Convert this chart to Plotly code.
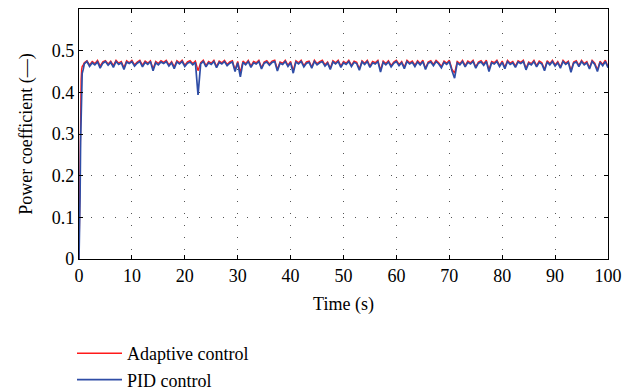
import plotly.graph_objects as go

# ---- data ----
t_rise = [0.0, 0.1, 0.2, 0.3, 0.4, 0.5, 0.6, 0.8]
pid_rise = [0.0, 0.05, 0.15, 0.28, 0.38, 0.43, 0.445, 0.455]
adaptive_rise = [0.0, 0.12, 0.28, 0.38, 0.43, 0.455, 0.462, 0.466]

step = 0.5
pid_steady = [
    0.468, 0.474, 0.462, 0.471, 0.466, 0.473, 0.458, 0.470, 0.474, 0.465,
    0.472, 0.460, 0.474, 0.467, 0.471, 0.455, 0.473, 0.469, 0.474, 0.463,
    0.470, 0.474, 0.461, 0.472, 0.467, 0.474, 0.452, 0.471, 0.466, 0.473,
    0.469, 0.474, 0.463, 0.471, 0.457, 0.473, 0.468, 0.474, 0.462, 0.470,
    0.473, 0.466, 0.472, 0.394, 0.468, 0.474, 0.461, 0.471, 0.467, 0.474,
    0.459, 0.472, 0.468, 0.474, 0.464, 0.470, 0.473, 0.450, 0.471, 0.437,
    0.472, 0.466, 0.474, 0.460, 0.471, 0.468, 0.474, 0.456, 0.470, 0.473,
    0.465, 0.472, 0.474, 0.451, 0.470, 0.467, 0.474, 0.462, 0.471, 0.446,
    0.473, 0.468, 0.474, 0.461, 0.470, 0.472, 0.458, 0.474, 0.466, 0.471,
    0.474, 0.463, 0.470, 0.455, 0.473, 0.468, 0.474, 0.460, 0.471, 0.467,
    0.474, 0.462, 0.472, 0.469, 0.453, 0.473, 0.467, 0.474, 0.460, 0.471,
    0.468, 0.474, 0.449, 0.472, 0.466, 0.473, 0.461, 0.470, 0.474, 0.464,
    0.471, 0.457, 0.474, 0.468, 0.472, 0.462, 0.473, 0.466, 0.474, 0.455,
    0.470, 0.473, 0.464, 0.474, 0.468, 0.459, 0.472, 0.467, 0.474, 0.452,
    0.434, 0.471, 0.466, 0.474, 0.461, 0.472, 0.468, 0.474, 0.458, 0.470,
    0.473, 0.465, 0.474, 0.450, 0.471, 0.468, 0.474, 0.462, 0.472, 0.457,
    0.474, 0.467, 0.471, 0.460, 0.473, 0.469, 0.474, 0.454, 0.470, 0.466,
    0.474, 0.461, 0.472, 0.468, 0.452, 0.473, 0.466, 0.474, 0.463, 0.471,
    0.458, 0.474, 0.467, 0.472, 0.448, 0.470, 0.473, 0.462, 0.474, 0.466,
    0.471, 0.456, 0.474, 0.467, 0.450, 0.472, 0.464, 0.474, 0.459,
]
adaptive_steady = [
    0.471, 0.476, 0.466, 0.474, 0.469, 0.477, 0.463, 0.473, 0.476, 0.468,
    0.475, 0.464, 0.477, 0.470, 0.474, 0.459, 0.476, 0.471, 0.477, 0.466,
    0.473, 0.477, 0.465, 0.475, 0.470, 0.476, 0.456, 0.474, 0.469, 0.476,
    0.472, 0.477, 0.466, 0.474, 0.461, 0.476, 0.471, 0.477, 0.465, 0.473,
    0.476, 0.469, 0.475, 0.452, 0.471, 0.477, 0.464, 0.474, 0.470, 0.477,
    0.462, 0.475, 0.471, 0.477, 0.467, 0.473, 0.476, 0.454, 0.474, 0.448,
    0.475, 0.469, 0.477, 0.463, 0.474, 0.471, 0.477, 0.459, 0.473, 0.476,
    0.468, 0.475, 0.477, 0.455, 0.473, 0.470, 0.477, 0.465, 0.474, 0.452,
    0.476, 0.471, 0.477, 0.464, 0.473, 0.475, 0.461, 0.477, 0.469, 0.474,
    0.477, 0.466, 0.473, 0.458, 0.476, 0.471, 0.477, 0.463, 0.474, 0.470,
    0.477, 0.465, 0.475, 0.472, 0.456, 0.476, 0.470, 0.477, 0.463, 0.474,
    0.471, 0.477, 0.453, 0.475, 0.469, 0.476, 0.464, 0.473, 0.477, 0.467,
    0.474, 0.460, 0.477, 0.471, 0.475, 0.465, 0.476, 0.469, 0.477, 0.458,
    0.473, 0.476, 0.467, 0.477, 0.471, 0.462, 0.475, 0.470, 0.477, 0.456,
    0.446, 0.474, 0.469, 0.477, 0.464, 0.475, 0.471, 0.477, 0.461, 0.473,
    0.476, 0.468, 0.477, 0.454, 0.474, 0.471, 0.477, 0.465, 0.475, 0.460,
    0.477, 0.470, 0.474, 0.463, 0.476, 0.472, 0.477, 0.457, 0.473, 0.469,
    0.477, 0.464, 0.475, 0.471, 0.455, 0.476, 0.469, 0.477, 0.466, 0.474,
    0.461, 0.477, 0.470, 0.475, 0.452, 0.473, 0.476, 0.465, 0.477, 0.469,
    0.474, 0.459, 0.477, 0.470, 0.454, 0.475, 0.467, 0.477, 0.462,
]
t_steady = [1.0 + i * step for i in range(len(pid_steady))]

time = t_rise + t_steady
pid = pid_rise + pid_steady
adaptive = adaptive_rise + adaptive_steady

x_ticks = [0, 10, 20, 30, 40, 50, 60, 70, 80, 90, 100]
y_ticks = [0, 0.1, 0.2, 0.3, 0.4, 0.5]
y_tick_labels = ["0", "0.1", "0.2", "0.3", "0.4", "0.5"]

FONT = "Liberation Serif"
PLOT_L, PLOT_R, PLOT_T, PLOT_B = 79, 608, 9, 259
W, H = 639, 391

fig = go.Figure()
fig.add_trace(go.Scatter(x=time, y=adaptive, mode="lines", name="Adaptive control",
                         line=dict(color="#FF1A1A", width=1.4)))
fig.add_trace(go.Scatter(x=time, y=pid, mode="lines", name="PID control",
                         line=dict(color="#2F4DA6", width=1.7)))

axis_common = dict(
    showline=True, linecolor="black", linewidth=1.3, mirror="ticks",
    ticks="inside", ticklen=4, tickcolor="black", tickwidth=1,
    showgrid=True, gridcolor="#555555", gridwidth=1, griddash="1px,11px",
    zeroline=False, tickfont=dict(family=FONT, size=18, color="black"),
)

plot_w = PLOT_R - PLOT_L
plot_h = PLOT_B - PLOT_T

fig.update_layout(
    width=W, height=H,
    margin=dict(l=PLOT_L, r=W - PLOT_R, t=PLOT_T, b=H - PLOT_B, autoexpand=False),
    paper_bgcolor="white", plot_bgcolor="white",
    font=dict(family=FONT, size=18, color="black"),
    xaxis=dict(range=[0, 100], tickvals=x_ticks,
               title=dict(text="Time (s)", standoff=12, font=dict(family=FONT, size=18)),
               **axis_common),
    yaxis=dict(range=[0, 0.6], tickvals=y_ticks, ticktext=y_tick_labels,
               title=dict(text="Power coefficient (—)", standoff=14, font=dict(family=FONT, size=18)),
               **axis_common),
    showlegend=True,
    legend=dict(x=(72 - PLOT_L) / plot_w, y=-(335 - PLOT_B) / plot_h,
                xanchor="left", yanchor="top", bgcolor="rgba(0,0,0,0)",
                itemwidth=45,
                font=dict(family=FONT, size=18), traceorder="normal"),
)

fig.write_html("out.html")
